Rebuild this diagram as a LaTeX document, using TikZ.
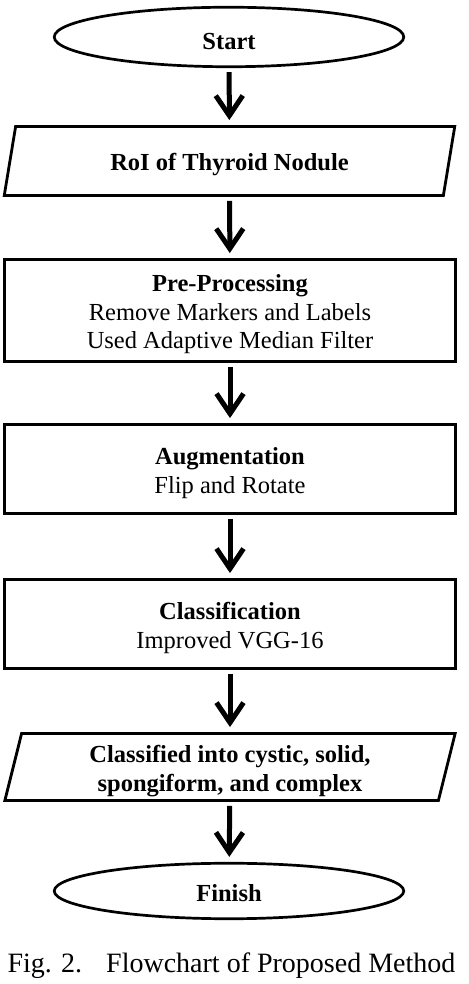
\documentclass[tikz,border=0pt]{standalone}
\usepackage{fontspec}
\setmainfont{Liberation Serif}
\usetikzlibrary{shapes.geometric,arrows.meta}
\newcommand{\sstrut}{\rule{0pt}{25pt}}

\begin{document}
\begin{tikzpicture}[x=1pt,y=1pt,
	boxtext/.style={align=center,font=\fontsize{24.5}{28.5}\selectfont},
	term/.style={boxtext,draw,ellipse,line width=2.7pt,minimum width=349.5pt,font=\fontsize{24.5}{28.5}\selectfont\bfseries},
	inout/.style={boxtext,draw,trapezium,trapezium left angle=80,trapezium right angle=100,trapezium stretches=true,line width=2.8pt,minimum width=452pt,font=\fontsize{24.5}{28.5}\selectfont\bfseries},
	proc/.style={boxtext,draw,rectangle,line width=2.8pt,minimum width=451pt},
	flow/.style={-{Straight Barb[length=20pt,width=27pt]},line width=5pt,shorten <=4pt,shorten >=5pt}]
		\useasboundingbox(0,0)rectangle(468,984);
		\node[term,minimum height=59.5pt](start)at(229,947){\sstrut Start};
		\node[inout,minimum height=69pt](roi)at(229.5,823){\sstrut RoI of Thyroid Nodule};
		\node[proc,minimum height=102pt](pre)at(230,673.5){\sstrut\textbf{Pre-Processing}\\Remove Markers and Labels\\Used Adaptive Median Filter};
		\node[proc,minimum height=89pt](aug)at(230,515){\sstrut\textbf{Augmentation}\\Flip and Rotate};
		\node[proc,minimum height=89pt](cls)at(230,360){\sstrut\textbf{Classification}\\Improved VGG-16};
		\node[inout,minimum height=67pt](res)at(230,217){\sstrut Classified into cystic, solid,\\spongiform, and complex};
		\node[term,minimum height=55.5pt](fin)at(229,93){\rule{0pt}{22pt}Finish};
		\node[anchor=base,font=\fontsize{28}{32}\selectfont](cap)at(231.5,11){Fig. 2.\hspace{24pt}Flowchart of Proposed Method};
		\draw[flow](start)--(roi);
		\draw[flow](roi)--(pre);
		\draw[flow](pre)--(aug);
		\draw[flow](aug)--(cls);
		\draw[flow](cls)--(res);
		\draw[flow](res)--(fin);
		\end{tikzpicture}
\end{document}
